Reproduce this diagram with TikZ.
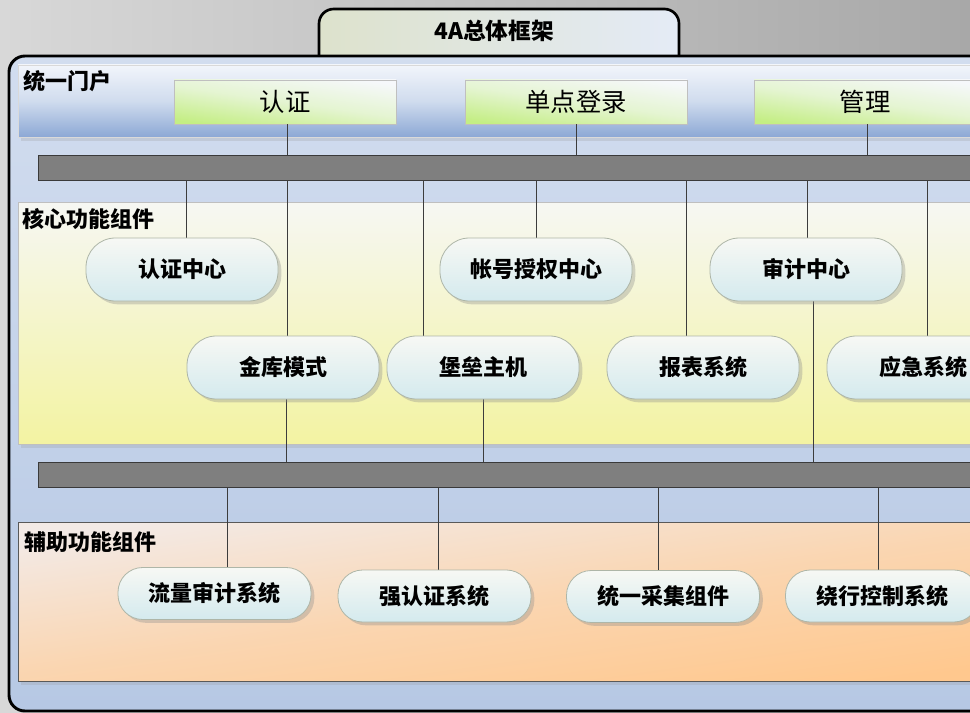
\documentclass[tikz,border=0pt]{standalone}
\usepackage{fontspec}
\setmainfont{Noto Sans CJK SC}
\usetikzlibrary{shadows}
\pgfdeclarelayer{back}
\pgfdeclarelayer{mid}
\pgfsetlayers{back,mid,main}
\definecolor{bgL}{HTML}{D8D8D8}
\definecolor{bgR}{HTML}{A8A8A8}
\definecolor{tabL}{HTML}{DDE2CC}
\definecolor{tabR}{HTML}{E4EBF6}
\definecolor{frameT}{HTML}{D2DDEF}
\definecolor{frameB}{HTML}{B6C8E4}
\definecolor{portT}{HTML}{F2F5FB}
\definecolor{portM}{HTML}{D0DCEE}
\definecolor{portB}{HTML}{8CA8D5}
\definecolor{boxG}{HTML}{C4EE84}
\definecolor{boxW}{HTML}{F6F8FB}
\definecolor{barF}{HTML}{7F7F7F}
\definecolor{barD}{HTML}{3A3A3A}
\definecolor{coreT}{HTML}{F6F7F3}
\definecolor{coreB}{HTML}{F3F3A2}
\definecolor{auxT}{HTML}{F3EAE6}
\definecolor{auxB}{HTML}{FFC88E}
\definecolor{pillT}{HTML}{F7F8F4}
\definecolor{pillB}{HTML}{D4EAEE}
\definecolor{pillD}{HTML}{AEB6A8}
\definecolor{lineC}{HTML}{3C3C3C}
\begin{document}
\begin{tikzpicture}[x=0.75pt,y=-0.75pt,
  conn/.style={draw=lineC,line width=0.7pt},
  bar/.style={rectangle,draw=barD,line width=0.6pt,fill=barF,minimum width=729pt,minimum height=18.75pt,inner sep=0pt},
  pbox/.style={rectangle,draw=black!25,line width=0.6pt,top color=boxW,bottom color=boxG,middle color=boxG!35!boxW,shading angle=-8,
    minimum width=166.5pt,minimum height=33pt,inner sep=0pt,font=\fontsize{19}{21}\selectfont},
  pill/.style={rectangle,rounded corners=22pt,draw=pillD,line width=0.6pt,top color=pillT,bottom color=pillB,
    minimum width=144pt,minimum height=47.25pt,inner sep=0pt,font=\bfseries\fontsize{16.5}{18}\selectfont,
    drop shadow={shadow xshift=2.5pt,shadow yshift=-2.5pt,opacity=0.35,fill=black!45}},
  apill/.style={pill,rounded corners=18.5pt,minimum width=144.75pt,minimum height=39pt},
  lbl/.style={anchor=west,inner sep=0pt,font=\bfseries\fontsize{16.5}{18}\selectfont}]
\useasboundingbox (0,0) rectangle (970,713);
\begin{pgfonlayer}{back}
\fill[left color=bgL,right color=bgR] (0,0) rectangle (970,713);
% title tab
\path[draw=black,line width=2pt,rounded corners=11pt,left color=tabL,right color=tabR]
  (319,62) -- (319,9) -- (679,9) -- (679,62);
\node[font=\bfseries\fontsize{17}{19}\selectfont] (title) at (494,31) {4A总体框架};
% main frame
\path[draw=black,line width=2.2pt,rounded corners=12pt,top color=frameT,bottom color=frameB]
  (9,56) rectangle (1010,711);
% portal band
\path[draw=black!15,line width=0.5pt,top color=portT,bottom color=portB,middle color=portM,
  drop shadow={shadow xshift=2pt,shadow yshift=-3pt,opacity=0.25,fill=black!40}]
  (18,65) rectangle (1010,137);
\node[lbl] (lportal) at (23,81) {统一门户};
\node[pbox] (p1) at (285,102) {认证};
\node[pbox] (p2) at (576,102) {单点登录};
\node[pbox] (p3) at (865,102) {管理};
% bus bars
\node[bar] (bar1) at (524,167.5) {};
\node[bar] (bar2) at (524,475) {};
% core band
\path[draw=black!25,line width=0.5pt,top color=coreT,bottom color=coreB,
  drop shadow={shadow xshift=2pt,shadow yshift=-3pt,opacity=0.25,fill=black!40}]
  (18,202) rectangle (1010,444);
\node[lbl] (lcore) at (22,219) {核心功能组件};
% aux band
\path[draw=black!65,line width=0.6pt,top color=auxT,bottom color=auxB,middle color=auxB!60!auxT,shading angle=8,
  drop shadow={shadow xshift=2pt,shadow yshift=-3pt,opacity=0.25,fill=black!40}]
  (18,522) rectangle (1010,681);
\node[lbl] (laux) at (24,542) {辅助功能组件};
\end{pgfonlayer}
% core pills
\node[pill] (c1) at (182,269.5) {认证中心};
\node[pill] (c2) at (536,269.5) {帐号授权中心};
\node[pill] (c3) at (806,269.5) {审计中心};
\node[pill] (c4) at (283,367.5) {金库模式};
\node[pill] (c5) at (483,367.5) {堡垒主机};
\node[pill] (c6) at (703,367.5) {报表系统};
\node[pill] (c7) at (923,367.5) {应急系统};
% aux pills
\node[apill] (a1) at (214.5,593.5) {流量审计系统};
\node[apill] (a2) at (434.5,596) {强认证系统};
\node[apill] (a3) at (663,596.5) {统一采集组件};
\node[apill] (a4) at (882,596) {绕行控制系统};
\begin{pgfonlayer}{mid}
% portal -> bar1
\draw[conn] (287,0 |- p1.south) -- (287,0 |- bar1.north);
\draw[conn] (576,0 |- p2.south) -- (576,0 |- bar1.north);
\draw[conn] (867,0 |- p3.south) -- (867,0 |- bar1.north);
% bar1 -> core
\draw[conn] (186,0 |- bar1.south) -- (186,0 |- c1.north);
\draw[conn] (287,0 |- bar1.south) -- (287,0 |- c4.north);
\draw[conn] (423,0 |- bar1.south) -- (423,0 |- c5.north);
\draw[conn] (536,0 |- bar1.south) -- (536,0 |- c2.north);
\draw[conn] (686,0 |- bar1.south) -- (686,0 |- c6.north);
\draw[conn] (807,0 |- bar1.south) -- (807,0 |- c3.north);
\draw[conn] (927,0 |- bar1.south) -- (927,0 |- c7.north);
% core -> bar2
\draw[conn] (286,0 |- c4.south) -- (286,0 |- bar2.north);
\draw[conn] (483,0 |- c5.south) -- (483,0 |- bar2.north);
\draw[conn] (813,0 |- c3.south) -- (813,0 |- bar2.north) -- (778,0 |- bar2.north);
% bar2 -> aux
\draw[conn] (227,0 |- bar2.south) -- (227,0 |- a1.north);
\draw[conn] (438,0 |- bar2.south) -- (438,0 |- a2.north);
\draw[conn] (658,0 |- bar2.south) -- (658,0 |- a3.north);
\draw[conn] (878,0 |- bar2.south) -- (878,0 |- a4.north);
\end{pgfonlayer}
\end{tikzpicture}
\end{document}
